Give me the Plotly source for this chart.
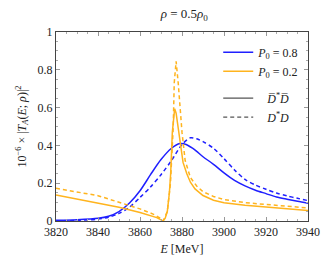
import plotly.graph_objects as go

# P0 = 0.8, Dbar* Dbar (solid blue)
e_b_solid = [3820, 3830, 3840, 3845, 3850, 3855, 3860, 3865, 3870, 3875, 3879, 3882, 3885, 3887,
             3890, 3895, 3900, 3905, 3910, 3915, 3920, 3925, 3930, 3935, 3940]
v_b_solid = [0.004, 0.007, 0.014, 0.025, 0.05, 0.095, 0.16, 0.245, 0.325, 0.385, 0.41, 0.405, 0.385, 0.368,
             0.34, 0.30, 0.255, 0.215, 0.186, 0.163, 0.145, 0.127, 0.115, 0.104, 0.094]

# P0 = 0.8, D* D (dashed blue)
e_b_dash = [3820, 3830, 3840, 3845, 3850, 3855, 3860, 3865, 3870, 3875, 3880, 3884, 3887,
            3890, 3895, 3900, 3905, 3910, 3915, 3920, 3925, 3930, 3935, 3940]
v_b_dash = [0.0, 0.003, 0.01, 0.02, 0.04, 0.073, 0.125, 0.18, 0.245, 0.32, 0.405, 0.44, 0.435,
            0.42, 0.385, 0.33, 0.27, 0.22, 0.19, 0.168, 0.148, 0.133, 0.12, 0.108]

# P0 = 0.2, Dbar* Dbar (solid orange)
e_o_solid = [3820, 3830, 3840, 3850, 3860, 3865, 3868, 3870, 3871, 3872, 3873, 3874, 3874.6, 3875.4,
             3876, 3876.5, 3877.2, 3878, 3879.2, 3880.5, 3882.3, 3884, 3886.2, 3890, 3895, 3900,
             3910, 3920, 3930, 3940]
v_o_solid = [0.137, 0.117, 0.095, 0.073, 0.045, 0.03, 0.018, 0.006, 0.0, 0.015, 0.05, 0.15, 0.25, 0.47,
             0.56, 0.594, 0.57, 0.5, 0.40, 0.31, 0.25, 0.205, 0.17, 0.135, 0.11, 0.097,
             0.083, 0.074, 0.064, 0.056]

# P0 = 0.2, D* D (dashed orange)
e_o_dash = [3820, 3830, 3840, 3850, 3860, 3866, 3870, 3871, 3873, 3874.5, 3875.8, 3876.3, 3877.2,
            3878.2, 3879.2, 3880, 3881.5, 3884, 3887, 3890, 3895, 3900, 3910, 3920, 3930, 3940]
v_o_dash = [0.173, 0.153, 0.134, 0.099, 0.064, 0.038, 0.012, 0.0, 0.05, 0.2, 0.49, 0.73, 0.845,
            0.73, 0.55, 0.47, 0.32, 0.23, 0.185, 0.155, 0.13, 0.113, 0.097, 0.087, 0.077, 0.069]

x_ticks = [3820, 3840, 3860, 3880, 3900, 3920, 3940]
y_ticks = [0, 0.2, 0.4, 0.6, 0.8, 1]
y_tick_labels = ["0", "0.2", "0.4", "0.6", "0.8", "1"]

BLUE = "#1f1fff"
ORANGE = "#ffb41e"
GRAY = "#555555"
FONT = "Liberation Serif, DejaVu Serif, serif"

fig = go.Figure()
fig.add_trace(go.Scatter(x=e_b_solid, y=v_b_solid, mode="lines",
                         line=dict(color=BLUE, width=1.5, shape="spline", smoothing=0.8),
                         name="<i>P</i><sub>0</sub> = 0.8", legendgroup="a"))
fig.add_trace(go.Scatter(x=e_b_dash, y=v_b_dash, mode="lines",
                         line=dict(color=BLUE, width=1.5, dash="4px,3px", shape="spline", smoothing=0.8),
                         showlegend=False))
fig.add_trace(go.Scatter(x=e_o_solid, y=v_o_solid, mode="lines",
                         line=dict(color=ORANGE, width=1.5), name="<i>P</i><sub>0</sub> = 0.2",
                         legendgroup="a"))
fig.add_trace(go.Scatter(x=e_o_dash, y=v_o_dash, mode="lines",
                         line=dict(color=ORANGE, width=1.5, dash="4px,3px"), showlegend=False))
fig.add_trace(go.Scatter(x=[None], y=[None], mode="lines",
                         line=dict(color=GRAY, width=1.2),
                         name="   <i>D\u0305</i><sup>*</sup><i>D\u0305</i>", legendgroup="b"))
fig.add_trace(go.Scatter(x=[None], y=[None], mode="lines",
                         line=dict(color=GRAY, width=1.2, dash="4px,3px"),
                         name="   <i>D</i><sup>*</sup><i>D</i>", legendgroup="b"))

axis_common = dict(
    showline=True, linecolor="#444444", linewidth=1, mirror="allticks",
    ticks="inside", ticklen=4, tickcolor="#999999", tickwidth=1,
    showgrid=False, zeroline=False,
    tickfont=dict(family=FONT, size=12, color="#222222"),
)

fig.update_xaxes(range=[3820, 3940], tickvals=x_ticks,
                 minor=dict(dtick=5, ticks="inside", ticklen=2, tickcolor="#aaaaaa", showgrid=False),
                 title=dict(text="<i>E</i> [MeV]", font=dict(family=FONT, size=12, color="#222222"),
                            standoff=6),
                 **axis_common)
fig.update_yaxes(range=[0, 1], tickvals=y_ticks, ticktext=y_tick_labels,
                 minor=dict(dtick=0.05, ticks="inside", ticklen=2, tickcolor="#aaaaaa", showgrid=False),
                 title=dict(text="10<sup>\u22126</sup> \u00d7 |<i>T<sub>A</sub></i>(<i>E</i>; <i>\u03c1</i>)|<sup>2</sup>",
                            font=dict(family=FONT, size=12, color="#222222"), standoff=8),
                 **axis_common)

fig.update_layout(
    width=332, height=266,
    margin=dict(l=56, r=18, t=32, b=42),
    paper_bgcolor="white", plot_bgcolor="white",
    title=dict(text="<i>\u03c1</i> = 0.5<i>\u03c1</i><sub>0</sub>", x=0.555, xanchor="center",
               y=0.95, yanchor="middle", font=dict(family=FONT, size=13, color="#222222")),
    legend=dict(x=0.985, y=0.97, xanchor="right", yanchor="top", bgcolor="rgba(0,0,0,0)",
                font=dict(family=FONT, size=12, color="#222222"), traceorder="grouped",
                tracegroupgap=8, itemwidth=30),
    showlegend=True,
)

fig.write_html("out.html", config={"displayModeBar": False},
               post_script="document.body.style.margin='0';")
